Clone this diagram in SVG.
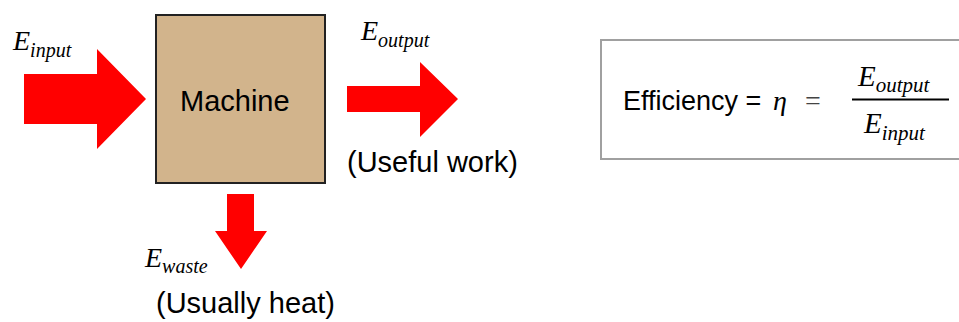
<svg xmlns="http://www.w3.org/2000/svg" width="959" height="322" viewBox="0 0 959 322">
<style>
.arrow{fill:#ff0000;stroke:none}
.sans{font-family:"Liberation Sans",Arial,sans-serif;fill:#000}
.serif{font-family:"Liberation Serif","Times New Roman",serif;font-style:italic;fill:#000}
.big{font-size:28px}
.sub{font-size:20px}
</style>
<rect width="959" height="322" fill="#fff"/>
<g id="machine">
<rect x="156" y="15" width="169" height="168" fill="#d2b48c" stroke="#222" stroke-width="2"/>
<text class="sans" x="180" y="111" font-size="29">Machine</text>
</g>
<g id="connectors">
<polygon class="arrow" points="24,74 97,74 97,49 146,99 97,149 97,124 24,124"/>
<polygon class="arrow" points="347,86 420,86 420,62 458,99 420,137 420,112 347,112"/>
<polygon class="arrow" points="227,194 254,194 254,231 267,231 241,269 215,231 227,231"/>
</g>
<g id="label-input">
<text class="serif" x="13" y="50"><tspan class="big">E</tspan><tspan class="sub" dy="7">input</tspan></text>
</g>
<g id="label-output">
<text class="serif" x="361" y="40"><tspan class="big">E</tspan><tspan class="sub" dy="7">output</tspan></text>
<text class="sans" x="347" y="172" font-size="29">(Useful work)</text>
</g>
<g id="label-waste">
<text class="serif" x="145" y="267"><tspan class="big">E</tspan><tspan class="sub" dy="6">waste</tspan></text>
<text class="sans" x="156" y="313" font-size="29">(Usually heat)</text>
</g>
<g id="efficiency">
<path d="M970,40 H601 V159 H970" fill="none" stroke="#a0a0a0" stroke-width="2"/>
<text class="sans" x="623" y="110" font-size="27">Efficiency = </text>
<text class="serif" x="773" y="110" font-size="28">η</text>
<text x="805" y="110" font-size="28" font-family="'Liberation Serif','Times New Roman',serif" fill="#444">=</text>
<text class="serif" x="858" y="86"><tspan font-size="29">E</tspan><tspan font-size="21" dy="6">output</tspan></text>
<line x1="852" y1="99.5" x2="949" y2="99.5" stroke="#000" stroke-width="2"/>
<text class="serif" x="864" y="133"><tspan font-size="29">E</tspan><tspan font-size="21" dy="7">input</tspan></text>
</g>
</svg>
